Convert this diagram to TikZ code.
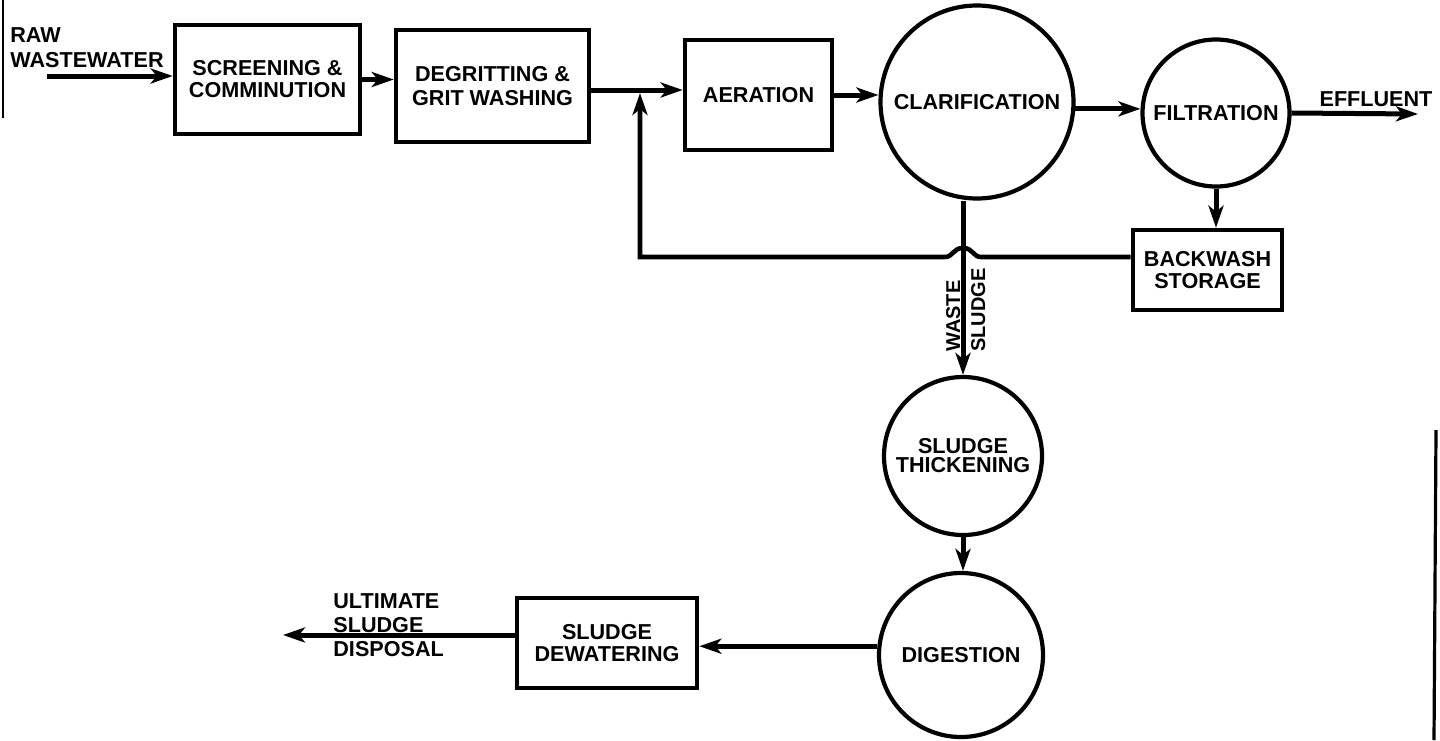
\documentclass[tikz,border=0pt]{standalone}
\usepackage{fontspec}
\setmainfont{Liberation Sans}
\usetikzlibrary{arrows.meta}
\begin{document}
\begin{tikzpicture}[x=0.5pt,y=-0.5pt,
  txt/.style={font=\fontsize{10.8}{11}\selectfont\bfseries, align=center, inner sep=0pt},
  proc/.style={txt, draw, line width=2.3pt},
  unit/.style={txt, circle, draw, line width=2.1pt},
  flow/.style={line width=2.5pt, -{Stealth[length=11pt,width=7.5pt,inset=3pt]}},
]
\fill[white] (0,0) rectangle (1440,740);
\useasboundingbox (0,0) rectangle (1440,740);

% scan edges
\draw[line width=1.4pt] (3,0) -- (3,118);
\draw[line width=1.6pt] (1436,430) -- (1434,740);

% process units
\node[proc, minimum width=92.5pt, minimum height=54.5pt] (scr) at (267.5,79.5) {SCREENING \&\\COMMINUTION};
\node[proc, minimum width=96.5pt, minimum height=56pt, font=\fontsize{10.8}{12}\selectfont\bfseries] (deg) at (492.5,86) {DEGRITTING \&\\GRIT WASHING};
\node[proc, minimum width=73.5pt, minimum height=55pt] (aer) at (758.5,95) {AERATION};
\node[unit, minimum size=96.5pt] (cla) at (977,102) {CLARIFICATION};
\node[unit, minimum size=73.5pt] (fil) at (1216,113) {FILTRATION};
\node[proc, minimum width=74.5pt, minimum height=40pt] (bw) at (1207.5,270) {BACKWASH\\STORAGE};
\node[unit, minimum size=79pt, font=\fontsize{10.8}{9.5}\selectfont\bfseries] (st) at (963,456) {SLUDGE\\THICKENING};
\node[unit, minimum size=82pt] (dig) at (961,655) {DIGESTION};
\node[proc, minimum width=90pt, minimum height=45pt] (dw) at (607,643) {SLUDGE\\DEWATERING};

% labels
\node[txt, align=left, anchor=north west, font=\fontsize{10.8}{12.5}\selectfont\bfseries] (raw) at (10,27) {RAW\\WASTEWATER};
\node[txt] (effl) at (1376,99) {EFFLUENT};
\node[txt, align=left, anchor=north west, font=\fontsize{10.8}{12}\selectfont\bfseries] (ult) at (333,593) {ULTIMATE\\SLUDGE\\DISPOSAL};
\node[txt, font=\fontsize{10}{10}\selectfont\bfseries, rotate=90, anchor=base west] (ws1) at (960,352) {WASTE};
\node[txt, font=\fontsize{10}{10}\selectfont\bfseries, rotate=90, anchor=base west] (ws2) at (985,352) {SLUDGE};

% coordinates
\coordinate (rawin) at (47,76);
\coordinate (jn) at (640,90);
\coordinate (ret) at (640,257);
\coordinate (eff) at (1418,114);
\coordinate (out) at (283,635);
\path (st.north |- ret) coordinate (hop);

% connectors
\draw[flow] (rawin) -- (rawin -| scr.west);
\draw[flow] (scr.east) -- (scr.east -| deg.west);
\draw[flow] (deg.east |- jn) -- (jn -| aer.west);
\draw[flow] (aer.east) -- (aer.east -| cla.west);
\draw[flow] (cla.-4) -- (cla.-4 -| fil.west);
\draw[flow] (fil.east) -- (eff);
\draw[flow] (fil.south) -- (fil.south |- bw.north);
\draw[flow, line width=2.3pt] (bw.west |- ret) -- ([xshift=9pt]hop)
   .. controls ([xshift=5pt]hop) and ([xshift=5pt,yshift=4.5pt]hop) .. ([yshift=4.5pt]hop)
   .. controls ([xshift=-5pt,yshift=4.5pt]hop) and ([xshift=-5pt]hop) .. ([xshift=-9pt]hop)
   -- (ret) -- ([yshift=-1.5pt]jn);
\draw[flow] (st.north |- cla.south) -- (st.north);
\draw[flow] (st.south) -- (st.south |- dig.north);
\draw[flow] (dig.174) -- (dig.174 -| dw.east);
\draw[flow] (dw.west |- out) -- (out);
\end{tikzpicture}
\end{document}
